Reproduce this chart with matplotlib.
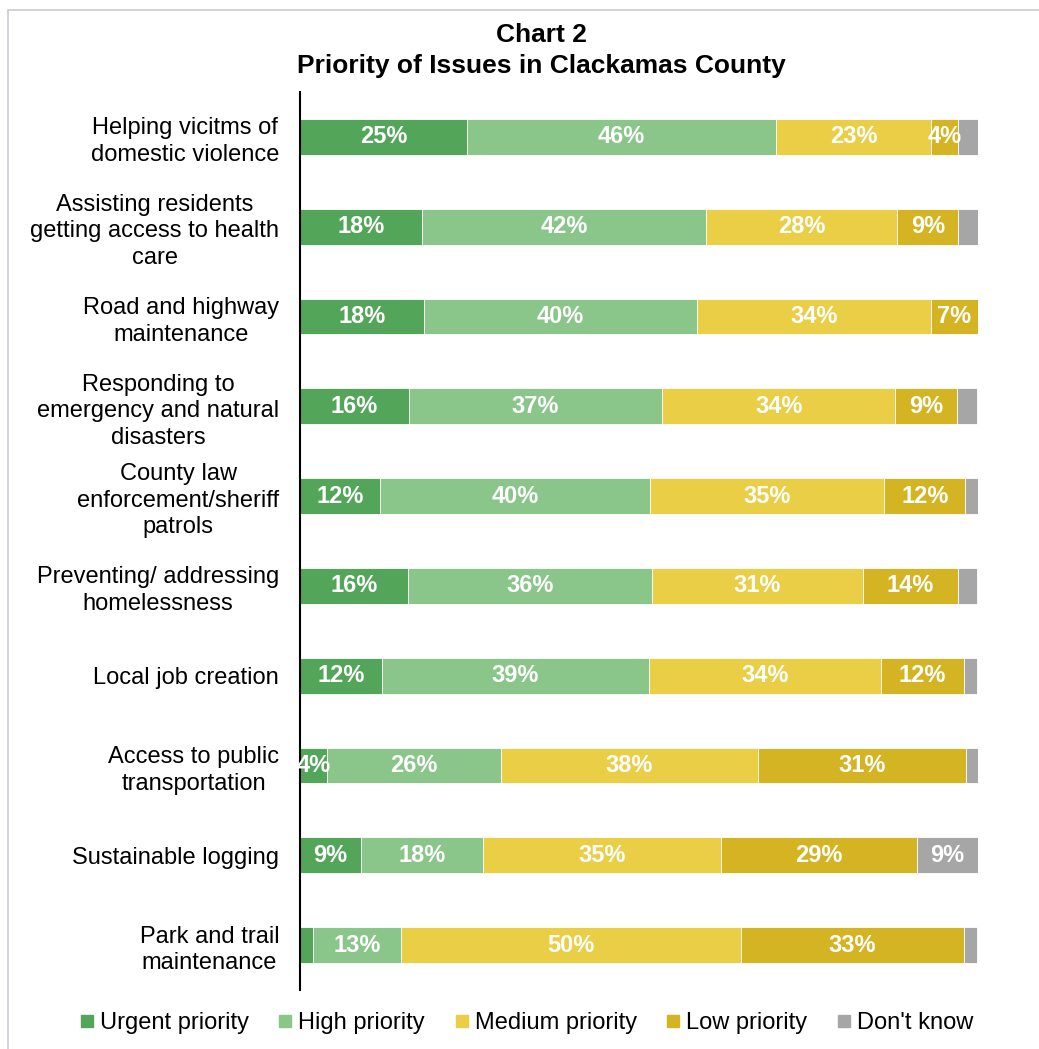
import matplotlib.pyplot as plt
from matplotlib.patches import Rectangle
from matplotlib.lines import Line2D

plt.rcParams["font.family"] = ["Liberation Sans", "DejaVu Sans"]

categories = [
    "Helping vicitms of\ndomestic violence",
    "Assisting residents\ngetting access to health\ncare",
    "Road and highway\nmaintenance",
    "Responding to\nemergency and natural\ndisasters",
    "County law\nenforcement/sheriff\npatrols",
    "Preventing/ addressing\nhomelessness",
    "Local job creation",
    "Access to public\ntransportation",
    "Sustainable logging",
    "Park and trail\nmaintenance",
]
urgent = [24.6, 18.0, 18.3, 16.1, 11.8, 15.9, 12.1, 4.0, 9.0, 1.9]
high = [45.6, 41.9, 40.3, 37.3, 39.8, 36.0, 39.4, 25.7, 18.0, 13.0]
medium = [22.9, 28.2, 34.4, 34.4, 34.6, 31.1, 34.2, 37.8, 35.1, 50.1]
low = [4.0, 9.0, 7.0, 9.1, 11.9, 14.0, 12.2, 30.7, 28.9, 33.0]
dont_know = [2.9, 2.9, 0.0, 2.9, 1.9, 2.9, 1.9, 1.9, 9.0, 1.9]

series = [urgent, high, medium, low, dont_know]
names = ["Urgent priority", "High priority", "Medium priority", "Low priority", "Don't know"]
colors = ["#53A55A", "#8AC689", "#E9CE46", "#D4B422", "#A6A6A6"]

fig = plt.figure(figsize=(10.39, 10.49), dpi=100)
W, H = 1039, 1049
ax = fig.add_axes([300 / W, 1 - 990 / H, 678 / W, 898 / H])

ypos = list(range(len(categories)))
left = [0.0] * len(categories)
for vals, name, col in zip(series, names, colors):
    ax.barh(ypos, vals, left=left, height=0.4, color=col, label=name,
            edgecolor="white", linewidth=0.6)
    for i, v in enumerate(vals):
        if round(v) >= 4:
            ax.text(left[i] + v / 2, i, f"{round(v)}%", ha="center", va="center",
                    color="white", fontsize=17, fontweight="bold")
    left = [l + v for l, v in zip(left, vals)]

ax.set_xlim(0, 100)
ax.set_ylim(9.5, -0.5)
ax.set_yticks(ypos)
ax.set_yticklabels(categories, fontsize=17, linespacing=1.27)
for t in ax.get_yticklabels():
    t.set_multialignment("center")
ax.tick_params(axis="y", length=0, pad=15)
ax.set_xticks([])
for s in ["top", "right", "bottom"]:
    ax.spines[s].set_visible(False)
ax.spines["left"].set_linewidth(1.5)

fig.text(541 / W, 1 - 35 / H, "Chart 2", ha="center", va="center",
         fontsize=19, fontweight="bold")
fig.text(541 / W, 1 - 66 / H, "Priority of Issues in Clackamas County", ha="center",
         va="center", fontsize=19, fontweight="bold")

handles = [Line2D([0], [0], marker="s", color="w", markerfacecolor=c,
                  markeredgecolor=c, markersize=9) for c in colors]
fig.legend(handles, names, loc="center", bbox_to_anchor=(527 / W, 1 - 1023 / H),
           ncol=5, frameon=False, fontsize=17, handlelength=0.5, handletextpad=0.3,
           columnspacing=1.3)

fig.patches.append(Rectangle((8 / W, -0.1), 1.2, 1.1 - 10 / H, transform=fig.transFigure,
                             fill=False, edgecolor="#C8CDD3", linewidth=1.2))

plt.savefig("out.png", dpi=100)
